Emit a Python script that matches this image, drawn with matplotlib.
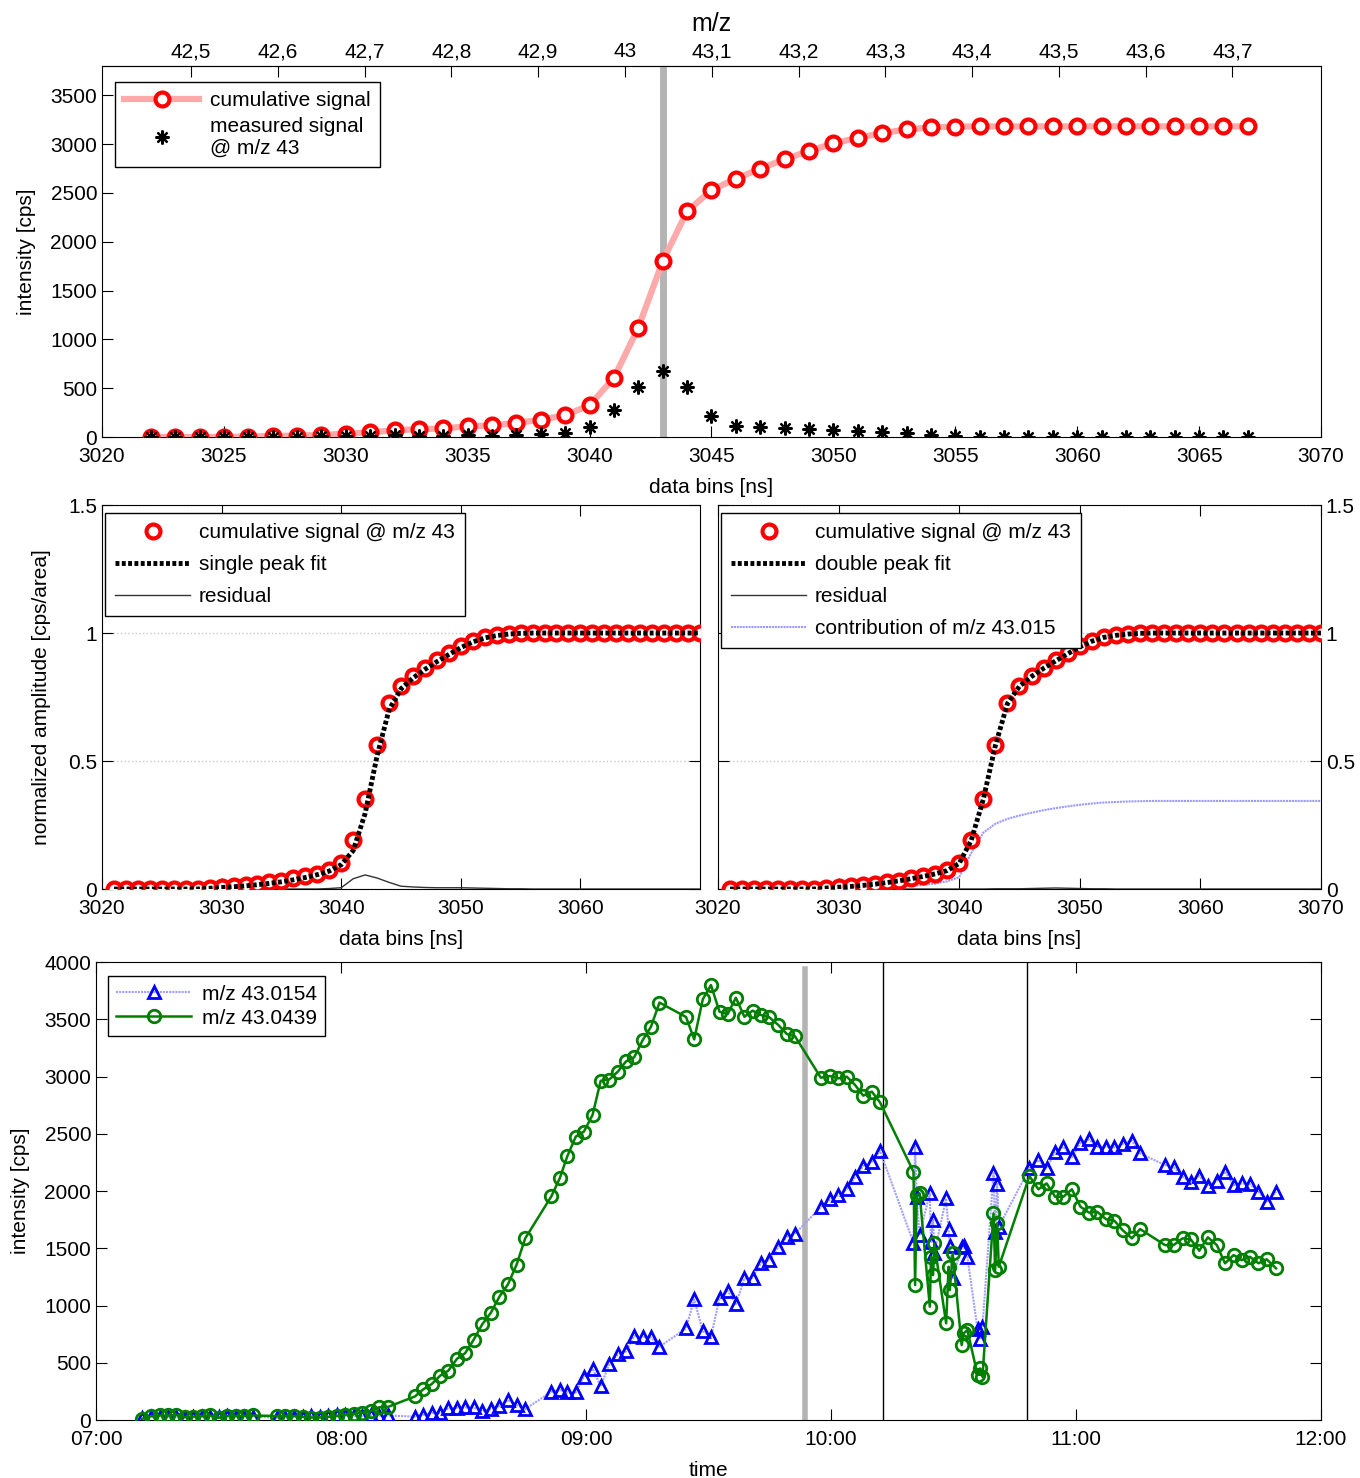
import numpy as np
import pandas as pd
import matplotlib
matplotlib.use("Agg")
import matplotlib.pyplot as plt
import matplotlib.dates as mdates
from matplotlib.ticker import FuncFormatter

plt.rcParams['font.family'] = ['Liberation Sans', 'DejaVu Sans']
plt.rcParams['font.size'] = 15

# ---- top panel: raw signal around m/z 43 ----
bins_top = np.arange(3022, 3068)
measured = [0, 0, 0, 0, 3, 5, 5, 7, 15, 13, 22, 10, 8, 22, 12, 24, 34, 45, 103, 281,
            515, 680, 511, 216, 117, 103, 96, 86, 76, 58, 48, 38, 21, 10, 5, 2,
            0, 0, 0, 0, 0, 0, 0, 0, 0, 0]
cumulative = [0, 0, 0, 0, 5, 10, 15, 20, 35, 48, 70, 80, 88, 110, 120, 144, 178, 223, 326, 607,
              1122, 1802, 2313, 2529, 2646, 2749, 2845, 2931, 3007, 3065, 3113, 3151, 3172, 3180, 3182, 3182,
              3182, 3182, 3182, 3182, 3182, 3182, 3182, 3182, 3182, 3182]
peak_bin = 3043
# m/z calibration for the top axis
mz_ref, bin_ref, bins_per_mz = 43.0, 3041.45, 35.6
mz_ticks = [42.5, 42.6, 42.7, 42.8, 42.9, 43.0, 43.1, 43.2, 43.3, 43.4, 43.5, 43.6, 43.7]

# ---- middle panels: normalized cumulative signal and fits ----
bins_mid = np.arange(3021, 3071)
norm_signal = [0, 0, 0, 0, 0, 0, 0, 0,
               0.005, 0.008, 0.011, 0.015, 0.020, 0.026, 0.033, 0.042, 0.050, 0.060, 0.073,
               0.10, 0.19, 0.35, 0.563, 0.726, 0.793, 0.832, 0.864, 0.893, 0.921, 0.948,
               0.969, 0.984, 0.992, 0.997,
               1, 1, 1, 1, 1, 1, 1, 1, 1, 1, 1, 1, 1, 1, 1, 1]
single_fit = [0, 0, 0, 0, 0, 0, 0, 0,
              0.003, 0.006, 0.009, 0.012, 0.017, 0.022, 0.028, 0.036, 0.045, 0.056, 0.070,
              0.095, 0.15, 0.295, 0.52, 0.70, 0.782, 0.824, 0.858, 0.888, 0.916, 0.943,
              0.965, 0.981, 0.990, 0.996,
              0.999, 1, 1, 1, 1, 1, 1, 1, 1, 1, 1, 1, 1, 1, 1, 1]
single_resid = [0, 0, 0, 0, 0, 0, 0, 0,
                0, 0, 0, 0, 0, 0, 0, 0, 0, 0, 0.002,
                0.005, 0.040, 0.055, 0.043, 0.026, 0.011, 0.008, 0.006, 0.005, 0.005, 0.005,
                0.004, 0.003, 0.002, 0.001,
                0.001, 0, 0, 0, 0, 0, 0, 0, 0, 0, 0, 0, 0, 0, 0, 0]
double_fit = [0, 0, 0, 0, 0, 0, 0, 0,
              0.004, 0.007, 0.010, 0.014, 0.019, 0.025, 0.032, 0.040, 0.049, 0.059, 0.072,
              0.10, 0.19, 0.35, 0.56, 0.724, 0.792, 0.830, 0.862, 0.891, 0.919, 0.946,
              0.968, 0.983, 0.991, 0.996,
              0.999, 1, 1, 1, 1, 1, 1, 1, 1, 1, 1, 1, 1, 1, 1, 1]
double_resid = [0, 0, 0, 0, 0, 0, 0, 0,
                0, 0, 0, 0, 0, 0, 0, 0, 0, 0, 0,
                0, 0, 0, 0.001, 0.001, 0.001, 0.002, 0.003, 0.004, 0.003, 0.002,
                0.001, 0.001, 0, 0,
                0, 0, 0, 0, 0, 0, 0, 0, 0, 0, 0, 0, 0, 0, 0, 0]
contrib_43015 = [0, 0, 0, 0, 0, 0, 0, 0,
                 0, 0.001, 0.002, 0.003, 0.005, 0.007, 0.009, 0.012, 0.016, 0.021, 0.030,
                 0.046, 0.14, 0.22, 0.255, 0.274, 0.287, 0.298, 0.308, 0.316, 0.323, 0.329,
                 0.334, 0.338, 0.340, 0.342,
                 0.343, 0.344, 0.344, 0.344, 0.344, 0.344, 0.344, 0.344, 0.344, 0.344, 0.344,
                 0.344, 0.344, 0.344, 0.344, 0.344]

# ---- bottom panel: time series (minutes after 07:00) ----
t_min = [11.3, 13.5, 15.6, 17.7, 19.7, 21.8, 23.8, 25.9, 27.9, 30.0, 32.1, 34.2, 36.3, 38.5,
         44.3, 46.4, 48.5, 50.6, 52.7, 54.8, 56.9, 59.0, 61.0, 63.1, 65.2, 67.3, 69.4, 71.5,
         78.1, 80.2, 82.2, 84.3, 86.3, 88.4, 90.4, 92.5, 94.6, 96.7, 98.8, 100.9, 103.0, 105.1,
         111.5, 113.6, 115.4, 117.5, 119.5, 121.6, 123.6, 125.7, 127.8, 129.8, 131.8, 133.9, 135.9, 138.0,
         144.5, 146.5, 148.6, 150.6, 152.7, 154.7, 156.7, 158.8, 160.8, 162.9, 164.9, 167.1, 169.2, 171.2,
         177.5, 179.8, 181.8, 183.9, 185.9, 187.9, 190.0, 192.0,
         200.2, 200.6, 201.0, 201.7, 204.2, 204.5, 205.0, 205.3, 208.2, 208.8, 209.1, 209.8,
         212.0, 212.5, 213.4, 215.9, 216.5, 217.1, 219.8, 220.2, 220.7, 221.1,
         228.6, 230.8, 232.8, 234.9, 236.9, 239.0, 241.1, 243.2, 245.2, 247.4, 249.4, 251.4, 253.7, 255.7,
         261.8, 263.9, 266.1, 268.1, 270.2, 272.3, 274.5, 276.5, 278.6, 280.6, 282.6, 284.7, 286.7, 289.0]
mz43_0439 = [10, 35, 40, 40, 45, 25, 30, 35, 40, 20, 35, 35, 35, 40,
             35, 35, 35, 28, 22, 22, 28, 35, 48, 55, 65, 80, 112, 115,
             206, 270, 314, 388, 432, 535, 584, 702, 837, 937, 1078, 1186, 1357, 1586,
             1953, 2114, 2302, 2476, 2520, 2664, 2963, 2974, 3043, 3132, 3168, 3319, 3434, 3646,
             3520, 3325, 3674, 3799, 3566, 3546, 3688, 3522, 3575, 3537, 3517, 3450, 3371, 3351,
             2990, 3004, 2984, 2998, 2926, 2833, 2868, 2775,
             2169, 1179, 1965, 1980, 990, 1426, 1266, 1543, 845, 1339, 1135, 1456,
             655, 757, 786, 393, 451, 378, 1805, 1310, 1718, 1339,
             2131, 2015, 2067, 1950, 1950, 2015, 1863, 1811, 1819, 1753, 1741, 1659, 1587, 1668,
             1528, 1528, 1587, 1578, 1479, 1596, 1528, 1369, 1441, 1397, 1426, 1369, 1404, 1325]
mz43_0154 = [15, 25, 30, 30, 25, 20, 25, 30, 25, 25, 35, 30, 30, 30,
             20, 20, 25, 30, 35, 30, 35, 40, 40, 35, 35, 40, 38, 40,
             30, 45, 62, 62, 102, 108, 110, 110, 76, 98, 122, 175, 131, 95,
             247, 264, 241, 241, 380, 450, 295, 489, 574, 600, 734, 728, 722, 640,
             801, 1054, 777, 728, 1063, 1129, 1013, 1238, 1243, 1374, 1397, 1508, 1601, 1628,
             1858, 1927, 1965, 2015, 2120, 2218, 2256, 2352,
             1549, 2387, 1945, 1616, 1980, 1557, 1747, 1456, 1936, 1666, 1520, 1238,
             1508, 1520, 1426, 792, 705, 815, 2155, 1645, 2061, 1688,
             2198, 2271, 2198, 2343, 2387, 2294, 2422, 2451, 2387, 2387, 2381, 2410, 2439, 2329,
             2227, 2212, 2125, 2081, 2131, 2044, 2090, 2169, 2052, 2067, 2061, 1994, 1907, 1994]
gray_line_min = 173.6
black_lines_min = [192.8, 227.9]

day0 = pd.Timestamp("2000-01-01 07:00")
times = day0 + pd.to_timedelta(t_min, unit="min")

fig = plt.figure(figsize=(13.6, 14.78), dpi=100)
tick_kw = dict(direction='in', length=8, width=0.8)
legend_kw = dict(loc='upper left', fancybox=False, edgecolor='black', framealpha=1,
                 borderaxespad=0)

# ================= top panel =================
ax1 = fig.add_axes([0.075, 0.7043, 0.8963, 0.2510])
ax1.axvline(peak_bin, color='#b4b4b4', lw=5, zorder=1)
ax1.plot(bins_top, cumulative, color='#ffaaaa', lw=4.5, marker='o', ms=10, mew=3,
         mec='red', mfc='white', label='cumulative signal', zorder=3)
ax1.plot(bins_top, measured, ls='none', marker=(8, 2, 0), ms=10, mew=1.6, color='black',
         label='measured signal\n@ m/z 43', zorder=4)
ax1.set_xlim(3020, 3070)
ax1.set_ylim(0, 3800)
ax1.set_xticks(np.arange(3020, 3071, 5))
ax1.set_yticks(np.arange(0, 3501, 500))
ax1.tick_params(**tick_kw)
ax1.tick_params(axis='x', pad=7)
ax1.set_xlabel('data bins [ns]', labelpad=9)
ax1.set_ylabel('intensity [cps]', labelpad=10)
sec = ax1.secondary_xaxis('top', functions=(lambda b: mz_ref + (b - bin_ref) / bins_per_mz,
                                            lambda m: bin_ref + (m - mz_ref) * bins_per_mz))
sec.set_xticks(mz_ticks)
sec.xaxis.set_major_formatter(FuncFormatter(lambda v, p: ('%g' % round(v, 1)).replace('.', ',')))
sec.tick_params(**tick_kw)
sec.set_xlabel('m/z', fontsize=18, labelpad=8)
leg = ax1.legend(bbox_to_anchor=(0.0107, 0.957), handlelength=3.6, handletextpad=0.5,
                 borderpad=0.45, labelspacing=0.3, **legend_kw)
leg.get_frame().set_linewidth(1)

# ================= middle panels =================
def middle_panel(ax, fit, fit_label, resid, contrib=None):
    ax.yaxis.grid(True, ls=':', color='#c8c8c8', lw=1)
    ax.set_axisbelow(True)
    ax.plot(bins_mid, norm_signal, ls='none', marker='o', ms=10, mew=3, mec='red', mfc='white',
            label='cumulative signal @ m/z 43', zorder=3)
    ax.plot(bins_mid, fit, color='black', lw=3.5, ls=(0, (0.8, 0.5)), label=fit_label, zorder=4)
    ax.plot(bins_mid, resid, color='#333333', lw=1, label='residual', zorder=2)
    if contrib is not None:
        ax.plot(bins_mid, contrib, color='#9a9aff', lw=1.5, ls=(0, (1, 0.4)),
                label='contribution of m/z 43.015', zorder=2)
    ax.set_xlim(3020, 3070)
    ax.set_ylim(0, 1.5)
    ax.set_yticks([0, 0.5, 1, 1.5])
    ax.set_yticklabels(['0', '0.5', '1', '1.5'])
    ax.tick_params(top=True, right=True, **tick_kw)
    ax.tick_params(axis='x', pad=7)
    ax.set_xlabel('data bins [ns]', labelpad=9)
    lg = ax.legend(bbox_to_anchor=(0.005, 0.98), handlelength=3.6, handletextpad=0.4,
                   borderpad=0.5, labelspacing=0.62, **legend_kw)
    lg.get_frame().set_linewidth(1)
    return lg

ax2 = fig.add_axes([0.075, 0.3985, 0.4397, 0.2598])
middle_panel(ax2, single_fit, 'single peak fit', single_resid)
ax2.set_xticks([3020, 3030, 3040, 3050, 3060])
ax2.set_ylabel('normalized amplitude [cps/area]', labelpad=12)

ax3 = fig.add_axes([0.5279, 0.3985, 0.4434, 0.2598])
middle_panel(ax3, double_fit, 'double peak fit', double_resid, contrib_43015)
ax3.set_xticks([3020, 3030, 3040, 3050, 3060, 3070])
ax3.tick_params(labelleft=False, labelright=True)

# ================= bottom panel =================
ax4 = fig.add_axes([0.0706, 0.0392, 0.9007, 0.3099])
ax4.plot(times, mz43_0154, color='#a0a0ff', lw=1.5, ls=(0, (1, 0.5)), marker='^', ms=9, mew=2,
         mec='blue', mfc='none', label='m/z 43.0154', zorder=3)
ax4.plot(times, mz43_0439, color='#007f00', lw=1.8, marker='o', ms=9, mew=2,
         mec='#007f00', mfc='none', label='m/z 43.0439', zorder=4)
ax4.axvline(day0 + pd.Timedelta(minutes=gray_line_min), color='#b4b4b4', lw=4,
            ymin=0.005, ymax=0.985, zorder=1)
for m in black_lines_min:
    ax4.axvline(day0 + pd.Timedelta(minutes=m), color='black', lw=1, zorder=2)
ax4.set_xlim(day0, day0 + pd.Timedelta(hours=5))
ax4.set_ylim(0, 4000)
ax4.set_yticks(np.arange(0, 4001, 500))
ax4.xaxis.set_major_locator(mdates.HourLocator())
ax4.xaxis.set_major_formatter(mdates.DateFormatter('%H:%M'))
ax4.tick_params(top=True, right=True, **tick_kw)
ax4.tick_params(axis='x', pad=7)
ax4.set_xlabel('time', labelpad=9)
ax4.set_ylabel('intensity [cps]', labelpad=10)
lg4 = ax4.legend(bbox_to_anchor=(0.0098, 0.969), handlelength=3.6, handletextpad=0.5,
                 borderpad=0.4, labelspacing=0.25, **legend_kw)
lg4.get_frame().set_linewidth(1)

fig.savefig('out.png', dpi=100)
